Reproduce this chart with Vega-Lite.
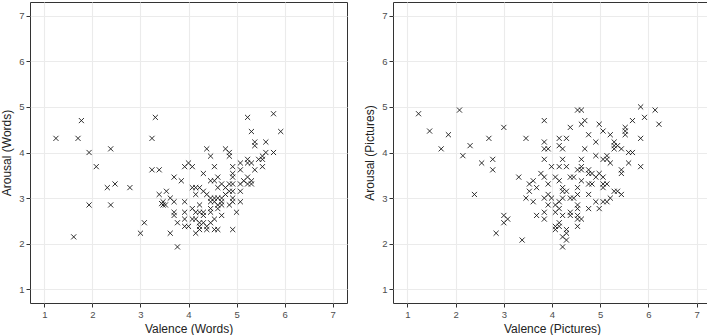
{
  "$schema": "https://vega.github.io/schema/vega-lite/v6.json",
  "background": "white",
  "padding": {"left": 0, "top": 1, "right": 2, "bottom": 0},
  "spacing": 15,
  "datasets": {
    "words": [
      {"valence": 1.24, "arousal": 4.31}, {"valence": 1.77, "arousal": 4.70}, {"valence": 1.70, "arousal": 4.31},
      {"valence": 1.93, "arousal": 4.00}, {"valence": 2.08, "arousal": 3.69}, {"valence": 2.38, "arousal": 4.08},
      {"valence": 2.31, "arousal": 3.23}, {"valence": 2.47, "arousal": 3.31}, {"valence": 1.93, "arousal": 2.85},
      {"valence": 2.38, "arousal": 2.85}, {"valence": 1.61, "arousal": 2.15}, {"valence": 2.78, "arousal": 3.23},
      {"valence": 3.31, "arousal": 4.77}, {"valence": 3.24, "arousal": 4.31}, {"valence": 3.24, "arousal": 3.62},
      {"valence": 3.39, "arousal": 3.62}, {"valence": 3.00, "arousal": 2.23}, {"valence": 3.08, "arousal": 2.46},
      {"valence": 3.39, "arousal": 3.08}, {"valence": 3.47, "arousal": 2.92}, {"valence": 3.47, "arousal": 2.85},
      {"valence": 3.44, "arousal": 2.88}, {"valence": 3.52, "arousal": 2.85},
      {"valence": 3.54, "arousal": 3.15}, {"valence": 3.62, "arousal": 3.00}, {"valence": 3.70, "arousal": 3.46},
      {"valence": 3.70, "arousal": 2.92}, {"valence": 3.70, "arousal": 2.69}, {"valence": 3.70, "arousal": 2.62},
      {"valence": 3.62, "arousal": 2.23}, {"valence": 3.77, "arousal": 2.46}, {"valence": 3.77, "arousal": 1.93},
      {"valence": 3.85, "arousal": 3.38}, {"valence": 3.92, "arousal": 3.69}, {"valence": 4.00, "arousal": 3.77},
      {"valence": 4.08, "arousal": 3.69}, {"valence": 3.92, "arousal": 2.92}, {"valence": 3.92, "arousal": 2.69},
      {"valence": 3.92, "arousal": 2.54}, {"valence": 3.92, "arousal": 2.38}, {"valence": 4.00, "arousal": 2.38},
      {"valence": 4.08, "arousal": 2.77}, {"valence": 4.08, "arousal": 2.54}, {"valence": 4.15, "arousal": 2.54},
      {"valence": 4.08, "arousal": 3.23}, {"valence": 4.15, "arousal": 3.23}, {"valence": 4.23, "arousal": 3.23},
      {"valence": 4.15, "arousal": 3.08}, {"valence": 4.15, "arousal": 2.69}, {"valence": 4.15, "arousal": 2.23},
      {"valence": 4.23, "arousal": 2.85}, {"valence": 4.23, "arousal": 2.69}, {"valence": 4.23, "arousal": 2.46},
      {"valence": 4.23, "arousal": 2.38}, {"valence": 4.23, "arousal": 2.31}, {"valence": 4.31, "arousal": 3.15},
      {"valence": 4.31, "arousal": 3.54}, {"valence": 4.31, "arousal": 2.69}, {"valence": 4.31, "arousal": 2.62},
      {"valence": 4.31, "arousal": 2.46}, {"valence": 4.38, "arousal": 3.08}, {"valence": 4.38, "arousal": 4.08},
      {"valence": 4.38, "arousal": 2.38}, {"valence": 4.38, "arousal": 2.31}, {"valence": 4.46, "arousal": 3.92},
      {"valence": 4.46, "arousal": 3.38}, {"valence": 4.46, "arousal": 3.00}, {"valence": 4.46, "arousal": 2.92},
      {"valence": 4.46, "arousal": 2.77}, {"valence": 4.46, "arousal": 2.69}, {"valence": 4.46, "arousal": 2.46},
      {"valence": 4.54, "arousal": 3.38}, {"valence": 4.54, "arousal": 3.69}, {"valence": 4.54, "arousal": 3.00},
      {"valence": 4.54, "arousal": 2.92}, {"valence": 4.54, "arousal": 2.54}, {"valence": 4.54, "arousal": 2.31},
      {"valence": 4.61, "arousal": 3.00}, {"valence": 4.61, "arousal": 2.85}, {"valence": 4.61, "arousal": 2.77},
      {"valence": 4.61, "arousal": 3.46}, {"valence": 4.61, "arousal": 3.23}, {"valence": 4.61, "arousal": 2.31},
      {"valence": 4.69, "arousal": 3.31}, {"valence": 4.69, "arousal": 3.00}, {"valence": 4.69, "arousal": 2.92},
      {"valence": 4.69, "arousal": 2.85}, {"valence": 4.69, "arousal": 2.62}, {"valence": 4.77, "arousal": 4.08},
      {"valence": 4.77, "arousal": 3.23}, {"valence": 4.77, "arousal": 3.08}, {"valence": 4.85, "arousal": 4.00},
      {"valence": 4.85, "arousal": 3.92}, {"valence": 4.85, "arousal": 3.31}, {"valence": 4.85, "arousal": 3.15},
      {"valence": 4.85, "arousal": 2.85}, {"valence": 4.92, "arousal": 3.31}, {"valence": 4.92, "arousal": 3.15},
      {"valence": 4.92, "arousal": 3.69}, {"valence": 4.92, "arousal": 3.54}, {"valence": 4.92, "arousal": 3.46},
      {"valence": 4.92, "arousal": 3.00}, {"valence": 4.92, "arousal": 2.92}, {"valence": 4.92, "arousal": 2.31},
      {"valence": 5.00, "arousal": 2.69}, {"valence": 5.08, "arousal": 3.77}, {"valence": 5.08, "arousal": 3.62},
      {"valence": 5.08, "arousal": 3.31}, {"valence": 5.08, "arousal": 3.15}, {"valence": 5.08, "arousal": 2.92},
      {"valence": 5.15, "arousal": 3.38}, {"valence": 5.23, "arousal": 4.77}, {"valence": 5.23, "arousal": 3.85},
      {"valence": 5.23, "arousal": 3.77}, {"valence": 5.23, "arousal": 3.46}, {"valence": 5.23, "arousal": 3.31},
      {"valence": 5.31, "arousal": 4.46}, {"valence": 5.31, "arousal": 3.77}, {"valence": 5.31, "arousal": 3.38},
      {"valence": 5.31, "arousal": 3.31}, {"valence": 5.38, "arousal": 4.23}, {"valence": 5.38, "arousal": 4.15},
      {"valence": 5.38, "arousal": 3.62}, {"valence": 5.46, "arousal": 3.85}, {"valence": 5.54, "arousal": 3.92},
      {"valence": 5.54, "arousal": 3.85}, {"valence": 5.54, "arousal": 3.69}, {"valence": 5.61, "arousal": 4.23},
      {"valence": 5.61, "arousal": 4.00}, {"valence": 5.77, "arousal": 4.85}, {"valence": 5.77, "arousal": 4.00},
      {"valence": 5.92, "arousal": 4.46}
    ],
    "pictures": [
      {"valence": 1.23, "arousal": 4.85}, {"valence": 1.46, "arousal": 4.47}, {"valence": 1.70, "arousal": 4.08},
      {"valence": 1.85, "arousal": 4.39}, {"valence": 2.08, "arousal": 4.93}, {"valence": 2.15, "arousal": 3.93},
      {"valence": 2.30, "arousal": 4.15}, {"valence": 2.39, "arousal": 3.08}, {"valence": 2.54, "arousal": 3.77},
      {"valence": 2.69, "arousal": 4.31}, {"valence": 2.77, "arousal": 3.85}, {"valence": 2.77, "arousal": 3.62},
      {"valence": 2.84, "arousal": 2.23}, {"valence": 3.00, "arousal": 4.55}, {"valence": 3.00, "arousal": 2.62},
      {"valence": 3.00, "arousal": 2.46}, {"valence": 3.08, "arousal": 2.54}, {"valence": 3.31, "arousal": 3.46},
      {"valence": 3.38, "arousal": 2.08}, {"valence": 3.46, "arousal": 4.31}, {"valence": 3.46, "arousal": 3.00},
      {"valence": 3.53, "arousal": 3.31}, {"valence": 3.53, "arousal": 3.15}, {"valence": 3.61, "arousal": 3.38},
      {"valence": 3.61, "arousal": 2.92}, {"valence": 3.68, "arousal": 3.23}, {"valence": 3.68, "arousal": 2.62},
      {"valence": 3.77, "arousal": 3.54}, {"valence": 3.84, "arousal": 4.70}, {"valence": 3.84, "arousal": 4.23},
      {"valence": 3.84, "arousal": 4.08}, {"valence": 3.84, "arousal": 3.85}, {"valence": 3.84, "arousal": 3.46},
      {"valence": 3.84, "arousal": 3.00}, {"valence": 3.84, "arousal": 2.69}, {"valence": 3.84, "arousal": 2.54},
      {"valence": 3.92, "arousal": 4.08}, {"valence": 3.92, "arousal": 3.31}, {"valence": 3.92, "arousal": 3.08},
      {"valence": 3.92, "arousal": 2.85}, {"valence": 3.99, "arousal": 3.69}, {"valence": 3.99, "arousal": 3.00},
      {"valence": 4.07, "arousal": 3.46}, {"valence": 4.07, "arousal": 2.85}, {"valence": 4.07, "arousal": 2.69},
      {"valence": 4.07, "arousal": 2.38}, {"valence": 4.07, "arousal": 2.31}, {"valence": 4.15, "arousal": 4.31},
      {"valence": 4.15, "arousal": 4.15}, {"valence": 4.15, "arousal": 3.69}, {"valence": 4.15, "arousal": 3.38},
      {"valence": 4.15, "arousal": 2.92}, {"valence": 4.15, "arousal": 2.77}, {"valence": 4.15, "arousal": 2.46},
      {"valence": 4.15, "arousal": 2.38}, {"valence": 4.22, "arousal": 4.08}, {"valence": 4.22, "arousal": 3.85},
      {"valence": 4.22, "arousal": 3.23}, {"valence": 4.22, "arousal": 3.15}, {"valence": 4.22, "arousal": 3.00},
      {"valence": 4.22, "arousal": 2.62}, {"valence": 4.22, "arousal": 2.15}, {"valence": 4.22, "arousal": 1.93},
      {"valence": 4.30, "arousal": 4.31}, {"valence": 4.30, "arousal": 3.69}, {"valence": 4.30, "arousal": 3.15},
      {"valence": 4.30, "arousal": 2.31}, {"valence": 4.30, "arousal": 2.23}, {"valence": 4.30, "arousal": 2.08},
      {"valence": 4.38, "arousal": 4.55}, {"valence": 4.38, "arousal": 3.46}, {"valence": 4.38, "arousal": 3.00},
      {"valence": 4.38, "arousal": 2.69}, {"valence": 4.38, "arousal": 2.62}, {"valence": 4.45, "arousal": 3.46},
      {"valence": 4.45, "arousal": 3.00}, {"valence": 4.53, "arousal": 4.93}, {"valence": 4.53, "arousal": 3.62},
      {"valence": 4.53, "arousal": 3.23}, {"valence": 4.53, "arousal": 3.08}, {"valence": 4.53, "arousal": 2.85},
      {"valence": 4.53, "arousal": 2.77}, {"valence": 4.53, "arousal": 2.62}, {"valence": 4.53, "arousal": 2.54},
      {"valence": 4.53, "arousal": 2.38}, {"valence": 4.61, "arousal": 4.93}, {"valence": 4.61, "arousal": 4.62},
      {"valence": 4.61, "arousal": 3.85}, {"valence": 4.61, "arousal": 3.69}, {"valence": 4.61, "arousal": 3.62},
      {"valence": 4.61, "arousal": 3.38}, {"valence": 4.61, "arousal": 2.54}, {"valence": 4.68, "arousal": 4.70},
      {"valence": 4.68, "arousal": 4.08}, {"valence": 4.76, "arousal": 4.39}, {"valence": 4.76, "arousal": 3.62},
      {"valence": 4.76, "arousal": 3.54}, {"valence": 4.76, "arousal": 3.31}, {"valence": 4.76, "arousal": 3.08},
      {"valence": 4.76, "arousal": 2.77}, {"valence": 4.83, "arousal": 3.54}, {"valence": 4.83, "arousal": 3.31},
      {"valence": 4.91, "arousal": 4.23}, {"valence": 4.91, "arousal": 3.93}, {"valence": 4.91, "arousal": 3.46},
      {"valence": 4.91, "arousal": 2.92}, {"valence": 4.98, "arousal": 4.62}, {"valence": 4.98, "arousal": 3.54},
      {"valence": 4.98, "arousal": 2.77}, {"valence": 5.06, "arousal": 4.47}, {"valence": 5.06, "arousal": 3.85},
      {"valence": 5.06, "arousal": 3.46}, {"valence": 5.06, "arousal": 3.31}, {"valence": 5.06, "arousal": 3.23},
      {"valence": 5.06, "arousal": 2.92}, {"valence": 5.14, "arousal": 3.93}, {"valence": 5.14, "arousal": 3.85},
      {"valence": 5.14, "arousal": 3.31}, {"valence": 5.14, "arousal": 2.92}, {"valence": 5.21, "arousal": 4.39},
      {"valence": 5.21, "arousal": 3.77}, {"valence": 5.21, "arousal": 3.00}, {"valence": 5.29, "arousal": 4.23},
      {"valence": 5.29, "arousal": 4.15}, {"valence": 5.29, "arousal": 4.08}, {"valence": 5.29, "arousal": 3.15},
      {"valence": 5.36, "arousal": 4.15}, {"valence": 5.36, "arousal": 3.15}, {"valence": 5.44, "arousal": 4.08},
      {"valence": 5.44, "arousal": 3.62}, {"valence": 5.44, "arousal": 3.54}, {"valence": 5.44, "arousal": 3.08},
      {"valence": 5.52, "arousal": 4.55}, {"valence": 5.52, "arousal": 4.47}, {"valence": 5.52, "arousal": 4.39},
      {"valence": 5.59, "arousal": 4.00}, {"valence": 5.59, "arousal": 3.77}, {"valence": 5.67, "arousal": 4.00},
      {"valence": 5.67, "arousal": 4.70}, {"valence": 5.84, "arousal": 5.00}, {"valence": 5.84, "arousal": 4.31},
      {"valence": 5.84, "arousal": 3.69}, {"valence": 5.92, "arousal": 4.77}, {"valence": 6.14, "arousal": 4.93},
      {"valence": 6.22, "arousal": 4.62}
    ]
  },
  "hconcat": [
    {
      "width": 317,
      "height": 301,
      "data": {"name": "words"},
      "mark": {"type": "point", "shape": "M-1,-1L1,1M-1,1L1,-1", "filled": false, "stroke": "#1a1a1a", "strokeWidth": 0.9, "size": 26, "opacity": 1},
      "encoding": {
        "x": {"field": "valence", "type": "quantitative", "title": "Valence (Words)",
              "scale": {"domain": [0.7, 7.3], "nice": false, "zero": false}},
        "y": {"field": "arousal", "type": "quantitative", "title": "Arousal (Words)",
              "scale": {"domain": [0.7, 7.3], "nice": false, "zero": false}}
      }
    },
    {
      "width": 318,
      "height": 301,
      "data": {"name": "pictures"},
      "mark": {"type": "point", "shape": "M-1,-1L1,1M-1,1L1,-1", "filled": false, "stroke": "#1a1a1a", "strokeWidth": 0.9, "size": 26, "opacity": 1},
      "encoding": {
        "x": {"field": "valence", "type": "quantitative", "title": "Valence (Pictures)",
              "scale": {"domain": [0.7, 7.3], "nice": false, "zero": false}},
        "y": {"field": "arousal", "type": "quantitative", "title": "Arousal (Pictures)",
              "scale": {"domain": [0.7, 7.3], "nice": false, "zero": false}}
      }
    }
  ],
  "config": {
    "font": "Liberation Sans",
    "view": {"stroke": "#333333", "strokeWidth": 1},
    "style": {"guide-title": {"fontWeight": "normal"}},
    "axis": {
      "values": [1, 1.5, 2, 2.5, 3, 3.5, 4, 4.5, 5, 5.5, 6, 6.5, 7],
      "labelExpr": "datum.value % 1 === 0 ? toString(datum.value) : ''",
      "domain": false,
      "grid": true,
      "gridColor": "#EBEBEB",
      "gridWidth": {"condition": {"test": "datum.value % 1 !== 0", "value": 0.6}, "value": 1.1},
      "tickColor": "#333333",
      "tickOpacity": {"condition": {"test": "datum.value % 1 !== 0", "value": 0}, "value": 1},
      "tickSize": 4,
      "tickWidth": 1,
      "labelFontSize": 9.5,
      "labelColor": "#4D4D4D",
      "labelPadding": 2,
      "labelFlush": false,
      "labelOverlap": false,
      "titleFontSize": 12,
      "titleFontWeight": "normal",
      "titleColor": "#222222",
      "titlePadding": 5
    }
  }
}
